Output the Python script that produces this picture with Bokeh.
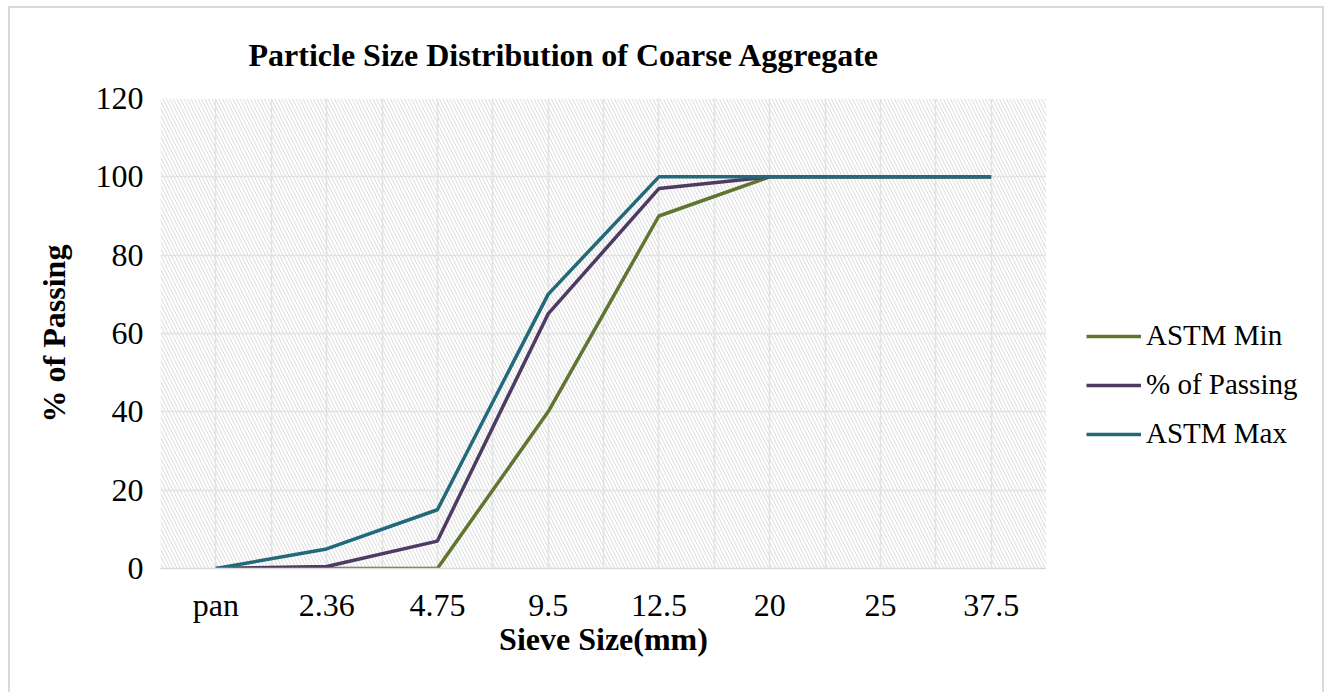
from bokeh.plotting import figure
from bokeh.layouts import row
from bokeh.models import BoxAnnotation, FixedTicker, Legend, LegendItem, FactorRange, Range1d
from bokeh.embed import file_html
from bokeh.resources import INLINE

sieve_sizes = ["pan", "2.36", "4.75", "9.5", "12.5", "20", "25", "37.5"]
astm_min = [0, 0, 0, 40, 90, 100, 100, 100]
pct_passing = [0, 0.5, 7, 65, 97, 100, 100, 100]
astm_max = [0, 5, 15, 70, 100, 100, 100, 100]
y_ticks = [0, 20, 40, 60, 80, 100, 120]
series_names = ["ASTM Min", "% of Passing", "ASTM Max"]
series_values = [astm_min, pct_passing, astm_max]
series_colors = ["#5f7530", "#4e3a63", "#22697a"]

FONT = "Liberation Serif"

p = figure(
    width=1036, height=686,
    x_range=FactorRange(*sieve_sizes, range_padding=0),
    y_range=Range1d(0, 120),
    output_backend="svg", toolbar_location=None,
    title="Particle Size Distribution of Coarse Aggregate",
    min_border_left=150, min_border_top=90, min_border_right=0, min_border_bottom=126,
    outline_line_color=None,
)

p.title.text_font = FONT
p.title.text_font_size = "32px"
p.title.text_font_style = "bold"
p.title.text_color = "black"
p.title.align = "left"
p.title.offset = 88
p.title.standoff = 52

# hatched plot area
hatch = BoxAnnotation(fill_color=None, line_color=None, hatch_pattern="left_diagonal_line",
                      hatch_color="#dadada", hatch_scale=7, hatch_weight=1, level="image")
p.add_layout(hatch)

p.xgrid.ticker = FixedTicker(ticks=[i * 0.5 for i in range(17)])
p.xgrid.grid_line_color = "#e2e2e2"
p.xgrid.grid_line_width = 1.5
p.ygrid.grid_line_color = "#e2e2e2"
p.ygrid.grid_line_width = 1.5
p.yaxis.ticker = FixedTicker(ticks=y_ticks)

for ax in (p.xaxis[0], p.yaxis[0]):
    ax.major_label_text_font = FONT
    ax.major_label_text_font_size = "32px"
    ax.major_label_text_color = "black"
    ax.axis_label_text_font = FONT
    ax.axis_label_text_font_size = "32px"
    ax.axis_label_text_font_style = "bold"
    ax.axis_label_text_color = "black"
    ax.major_tick_line_color = None
    ax.minor_tick_line_color = None

p.xaxis.axis_line_color = "#d9d9d9"
p.xaxis.axis_line_width = 1.5
p.yaxis.axis_line_color = None
p.xaxis.axis_label = "Sieve Size(mm)"
p.yaxis.axis_label = "% of Passing"
p.xaxis.major_label_standoff = 12
p.yaxis.major_label_standoff = 11
p.xaxis.axis_label_standoff = -5
p.yaxis.axis_label_standoff = 21

for vals, col in zip(series_values, series_colors):
    p.line(sieve_sizes, vals, line_color=col, line_width=3.5)

# legend panel: a separate figure so the legend sits outside the plot area.
# Its series lie outside its visible y range, so only the legend samples show.
pl = figure(width=276, height=686, x_range=FactorRange(*sieve_sizes, range_padding=0),
            y_range=Range1d(200, 300),
            x_axis_type=None, y_axis_type=None, output_backend="svg", toolbar_location=None,
            min_border=0, outline_line_color=None)
pl.xgrid.visible = False
pl.ygrid.visible = False
items = []
for name, vals, col in zip(series_names, series_values, series_colors):
    rr = pl.line(sieve_sizes, vals, line_color=col, line_width=3.5)
    items.append(LegendItem(label=name, renderers=[rr]))
legend = Legend(items=items, location=(40, 118))
legend.label_text_font = FONT
legend.label_text_font_size = "29px"
legend.label_text_color = "black"
legend.glyph_width = 55
legend.label_standoff = 5
legend.spacing = 16
legend.border_line_color = None
legend.background_fill_alpha = 0
legend.margin = 0
legend.padding = 10
pl.add_layout(legend, "center")

lay = row(p, pl, margin=(6, 0, 0, 8))
lay.styles = {"border": "2px solid #d9d9d9"}

open("out.html", "w").write(file_html(lay, INLINE))
